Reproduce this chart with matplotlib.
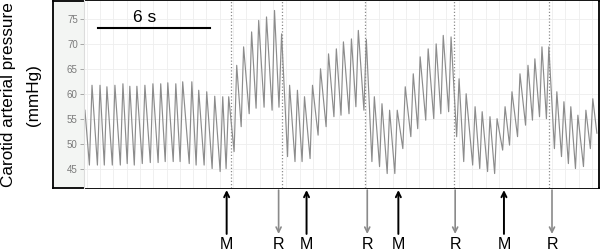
import matplotlib
matplotlib.use("Agg")
import matplotlib.pyplot as plt
import matplotlib.transforms as mtransforms
import numpy as np

plt.rcParams['font.family'] = ['Liberation Sans', 'DejaVu Sans']

# beat-by-beat carotid pressure (time in s, pressure in mmHg)
start_t, start_p = 0.05, 56.8
end_t, end_p = 27.54, 52.2

trough_t = [0.29, 0.72, 1.09, 1.52, 1.95, 2.32, 2.70, 3.13, 3.56, 3.98, 4.36, 4.79, 5.16, 5.65, 6.02, 6.45, 6.88, 7.31, 7.63,
            8.06, 8.44, 8.87, 9.24, 9.67, 10.10, 10.47,
            10.93, 11.33, 11.71, 12.14, 12.57, 13.00, 13.42, 13.80, 14.23, 14.60, 15.03,
            15.46, 15.87, 16.28, 16.69, 17.12, 17.55, 17.92, 18.35, 18.78, 19.16, 19.58,
            20.01, 20.39, 20.87, 21.25, 21.67, 22.05, 22.48, 22.85, 23.28, 23.71, 24.08, 24.46, 24.83,
            25.26, 25.64, 26.01, 26.39, 26.82, 27.19]
trough_p = [45.8, 45.8, 45.8, 45.8, 45.8, 46.1, 45.8, 46.1, 46.3, 46.3, 46.5, 46.5, 46.5, 46.1, 45.8, 45.8, 45.1, 44.5, 45.1,
            48.5, 53.5, 56.1, 57.2, 57.4, 56.8, 57.4,
            47.5, 46.5, 46.5, 47.1, 51.8, 53.5, 55.5, 55.8, 56.1, 57.5, 56.8,
            46.5, 45.5, 44.1, 44.1, 49.1, 51.5, 53.1, 54.8, 55.1, 56.1, 56.5,
            51.5, 46.5, 45.8, 45.1, 44.5, 44.1, 48.8, 49.8, 51.5, 53.8, 54.8, 55.5, 55.1,
            49.1, 47.5, 46.1, 45.1, 45.5, 49.1]
peak_t = [0.43, 0.86, 1.23, 1.66, 2.09, 2.46, 2.84, 3.27, 3.70, 4.12, 4.50, 4.93, 5.30, 5.79, 6.16, 6.59, 7.02, 7.45, 7.77,
          8.20, 8.57, 9.00, 9.38, 9.80, 10.23, 10.61,
          11.04, 11.46, 11.84, 12.27, 12.70, 13.13, 13.55, 13.93, 14.36, 14.73, 15.16,
          15.59, 16.00, 16.41, 16.82, 17.25, 17.68, 18.05, 18.48, 18.91, 19.29, 19.71,
          20.14, 20.52, 21.00, 21.38, 21.80, 22.18, 22.61, 22.98, 23.41, 23.84, 24.21, 24.59, 24.96,
          25.39, 25.77, 26.14, 26.52, 26.95, 27.32]
peak_p = [61.8, 61.8, 61.5, 61.8, 62.1, 61.6, 61.6, 61.8, 62.1, 62.1, 62.3, 62.1, 62.5, 62.5, 60.8, 60.5, 59.6, 59.5, 59.5,
          65.8, 69.5, 72.5, 74.8, 75.5, 76.8, 72.1,
          61.8, 60.8, 59.5, 61.8, 65.1, 68.1, 69.1, 70.5, 71.1, 72.8, 71.0,
          59.5, 58.1, 56.8, 56.8, 61.5, 64.1, 67.5, 69.1, 70.1, 71.8, 71.5,
          63.1, 60.1, 57.5, 56.5, 55.5, 55.1, 57.5, 60.5, 64.1, 65.8, 67.1, 69.5, 69.5,
          60.5, 58.5, 57.5, 55.8, 56.8, 59.1]

event_lines = [7.88, 10.61, 15.11, 19.88, 24.96]
m_times = [7.66, 11.95, 16.88, 22.55]
r_times = [10.45, 15.21, 19.93, 25.13]
yticks = [45, 50, 55, 60, 65, 70, 75]

t = [start_t]
p = [start_p]
for a, b, c, d in zip(trough_t, trough_p, peak_t, peak_p):
  t += [a, c]
  p += [b, d]
t.append(end_t)
p.append(end_p)

fig = plt.figure(figsize=(6, 2.52), dpi=100)

# outer frame with the grey strip holding the tick labels
frame = fig.add_axes([53/600, 64/252, 546/600, 187.5/252])
frame.set_facecolor('#f3f5f3')
frame.set_xticks([]); frame.set_yticks([])
for s in frame.spines.values():
  s.set_color('black'); s.set_linewidth(1.3)

ax = fig.add_axes([84/600, 64/252, 514/600, 187.5/252])
ax.set_facecolor('white')
ax.set_xlim(0, 27.6)
ax.set_ylim(41.2, 78.8)
for k in ['top', 'right', 'bottom']:
  ax.spines[k].set_visible(False)
ax.spines['left'].set_color('#dcdcdc')
ax.set_yticks(yticks)
ax.tick_params(axis='y', length=3, width=0.6, color='#999999', labelsize=7,
               labelcolor='#7a7a7a', pad=1.5)
ax.set_xticks(np.arange(0.15, 27.6, 0.714))
ax.tick_params(axis='x', length=0, labelbottom=False)
ax.grid(True, color='#eeeeee', lw=0.6)
ax.set_axisbelow(True)

for x in event_lines:
  ax.axvline(x, color='#8c8c8c', ls=(0, (1, 1.6)), lw=0.9)

ax.plot(t, p, color='#8c8c8c', lw=0.85)

# 6 s scale bar
ax.plot([0.75, 6.75], [73.2, 73.2], color='black', lw=1.5)
ax.text(3.27, 75.4, '6 s', fontsize=12.5, ha='center', va='center')

trans = mtransforms.blended_transform_factory(ax.transData, ax.transAxes)
for x in m_times:
  ax.annotate('', xy=(x, -0.011), xytext=(x, -0.245), xycoords=trans, textcoords=trans,
              arrowprops=dict(arrowstyle='->', color='black', lw=1.4, shrinkA=0, shrinkB=0,
                              mutation_scale=9), annotation_clip=False)
  ax.text(x, -0.30, 'M', transform=trans, ha='center', va='center', fontsize=11.5)
for x in r_times:
  ax.annotate('', xy=(x, -0.245), xytext=(x, -0.011), xycoords=trans, textcoords=trans,
              arrowprops=dict(arrowstyle='->', color='#8a8a8a', lw=1.2, shrinkA=0, shrinkB=0,
                              mutation_scale=9), annotation_clip=False)
  ax.text(x, -0.30, 'R', transform=trans, ha='center', va='center', fontsize=11.5)

fig.text(9/600, 1 - 95/252, 'Carotid arterial pressure', rotation=90, ha='center', va='center', fontsize=12.3)
fig.text(33/600, 1 - 95/252, '(mmHg)', rotation=90, ha='center', va='center', fontsize=12.3)

fig.savefig('out.png', dpi=100)
